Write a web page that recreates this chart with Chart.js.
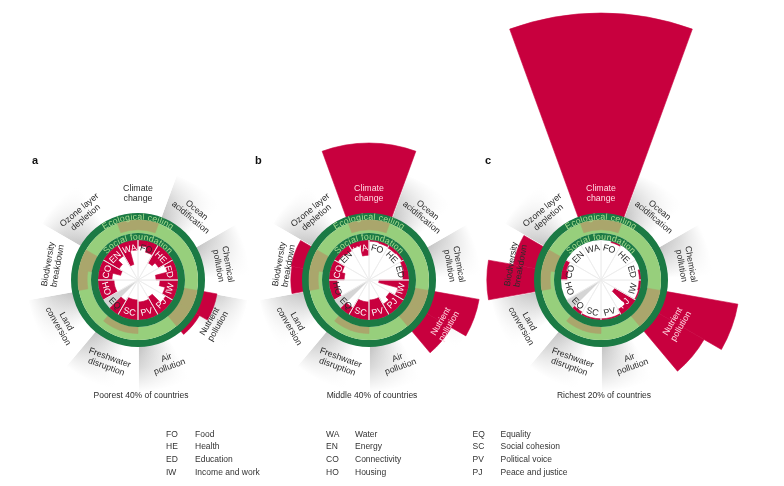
<!DOCTYPE html>
<html>
<head>
<meta charset="utf-8">
<title>Doughnut of social and planetary boundaries</title>
<script src="https://cdn.jsdelivr.net/npm/chart.js@4/dist/chart.umd.min.js"></script>
<style>
  html, body { margin:0; padding:0; background:#fff; }
  body { position:relative; width:784px; height:486px; overflow:hidden; }
  canvas { position:absolute; }
  #txt { position:absolute; left:0; top:0; width:784px; height:486px; pointer-events:none;
         font-family:"Liberation Sans", Arial, Helvetica, sans-serif; }
</style>
</head>
<body>
<canvas id="pa" width="580" height="580"></canvas>
<canvas id="pb" width="580" height="580"></canvas>
<canvas id="pc" width="580" height="580"></canvas>
<svg id="txt" xmlns="http://www.w3.org/2000/svg" width="784" height="486"></svg>
<script>
// ---------------- data ----------------
const boundaryLabels = [['Climate','change'],['Ocean','acidification'],['Chemical','pollution'],['Nutrient','pollution'],['Air','pollution'],['Freshwater','disruption'],['Land','conversion'],['Biodiversity','breakdown'],['Ozone layer','depletion']];
const dimensionCodes = ['FO','HE','ED','IW','PJ','PV','SC','EQ','HO','CO','EN','WA'];
const dimensionNames = ['Food','Health','Education','Income and work','Peace and justice','Political voice','Social cohesion','Equality','Housing','Connectivity','Energy','Water'];
const legendColumns = [['FO','HE','ED','IW'],['WA','EN','CO','HO'],['EQ','SC','PV','PJ']];
const groupTags = ['a','b','c'];
const groupNames = ['Poorest 40% of countries','Middle 40% of countries','Richest 20% of countries'];

// ecological overshoot beyond the ceiling (multiples of the boundary), sub-indicators per boundary
const overshootPoorest = [[0],[0],[0],[0.33,0.1],[0],[0,0],[0],[0,0],[0]];
const overshootMiddle  = [[1.75],[0],[0],[1.12,0.7],[0],[0,0],[0],[0.28,0.3],[0]];
const overshootRichest = [[5.0],[0],[0],[1.8,1.3],[0],[0,0],[0],[1.18,0.55],[0]];

// social achievement as share of the foundation (1 = no shortfall, null = no data)
const achievementPoorest = [[0.85,0.72],[0.5,0.6],[0.75,0.45],[0.55,0.7],[0.8,0.5],[0.55],[0.5],[0.6,null],[0.6],[0.65,0.45],[0.55,0.7],[0.4,0.75]];
const achievementMiddle  = [[0.97,0.95],[0.93,0.95],[0.9,0.85],[0.25,0.75],[0.6,0.7],[0.5],[0.55],[0.8,null],[0.8],[0.62,0.7],[0.9,0.85],[0.88,0.62]];
const achievementRichest = [[1,0.97],[1,1],[1,0.96],[0.95,0.97],[0.4,0.85],[0.97],[0.97],[0.93,null],[1],[0.85,0.9],[1,1],[1,1]];

// zone of increasing risk inside the safe band: [inner share, outer share] per sub-indicator
const riskZone = [[[0.25,1]],[[0,0]],[[0,0]],[[0,1],[0,1]],[[0,0]],[[0,0.5],[0,0.5]],[[0,0]],[[0.3,1],[0,1]],[[0,0]]];

const panelOvershoot = [overshootPoorest, overshootMiddle, overshootRichest];
const panelAchievement = [achievementPoorest, achievementMiddle, achievementRichest];

// ---------------- geometry & style ----------------
const HALF = 290;
const CENTERS = [[138,280],[369,280],[601,280]];
const R_IN = 40, R_SF = 47, R_CI = 60, R_CO = 67, K_OVER = 40, R_WEDGE = 112;
const LABEL_R = 87, SOC_LABEL_R = 32.5;
const RED = '#c8003e', DARK_GREEN = '#1b7a44', LIGHT_GREEN = '#97cf7c', OLIVE = '#aaa66c';
const RING_TEXT = '#a9dc90', INK = '#2b2b2b', LIGHT_TEXT = '#ffd9e3';
const wedgeShading = [0,1,1,1,-1,-1,-1,0,1];

// ---------------- radial bar controller ----------------
class RadialBarController extends Chart.PolarAreaController {
  updateElements(arcs, start, count, mode) {
    const scale = this._cachedMeta.rScale;
    const ds = this.getDataset();
    const toRad = Math.PI / 180;
    let angle = scale.getIndexAngle(0) - Math.PI / 2 + (ds.offsetAngle || 0) * toRad;
    for (let i = 0; i < start; i++) angle += ds.angles[i] * toRad;
    for (let i = start; i < start + count; i++) {
      const startAngle = angle;
      const endAngle = angle + ds.angles[i] * toRad;
      angle = endAngle;
      this.updateElement(arcs[i], i, {
        x: scale.xCenter, y: scale.yCenter,
        innerRadius: scale.getDistanceFromCenterForValue(ds.base[i]),
        outerRadius: scale.getDistanceFromCenterForValue(this.getParsed(i).r),
        startAngle, endAngle,
        options: this.resolveDataElementOptions(i, arcs[i].active ? 'active' : mode)
      }, mode);
    }
  }
}
RadialBarController.id = 'radialBar';
RadialBarController.defaults = Chart.PolarAreaController.defaults;
RadialBarController.overrides = Chart.PolarAreaController.overrides;
Chart.register(RadialBarController);

function segs(nested, span, fn) {
  const data = [], base = [], angles = [];
  nested.forEach(subs => subs.forEach(v => {
    const [b, o] = fn(v);
    base.push(b); data.push(o); angles.push(span / subs.length);
  }));
  return {data, base, angles};
}
const ring = (a, b) => ({data: [b], base: [a], angles: [360]});

function conicShade(chart) {
  const s = chart.scales.r, ctx = chart.ctx;
  if (!s || !ctx.createConicGradient) return '#e6e6e6';
  const g = ctx.createConicGradient((-90 - 20) * Math.PI / 180, s.xCenter, s.yCenter);
  const n = wedgeShading.length, G = '#c2c2c2', W = '#ffffff';
  wedgeShading.forEach((sh, i) => {
    const a0 = i / n, a1 = (i + 1) / n, w = a1 - a0;
    if (sh === 1) { g.addColorStop(a0, G); g.addColorStop(a0 + 0.7 * w, W); g.addColorStop(a1, W); }
    else if (sh === -1) { g.addColorStop(a0, W); g.addColorStop(a0 + 0.3 * w, W); g.addColorStop(a1, G); }
    else { g.addColorStop(a0, W); g.addColorStop(a1, W); }
  });
  return g;
}
function radialFade(chart) {
  const s = chart.scales.r, ctx = chart.ctx;
  if (!s) return 'rgba(255,255,255,0)';
  const g = ctx.createRadialGradient(s.xCenter, s.yCenter, R_CO, s.xCenter, s.yCenter, R_WEDGE);
  g.addColorStop(0, 'rgba(255,255,255,0)');
  g.addColorStop(0.45, 'rgba(255,255,255,0.35)');
  g.addColorStop(1, 'rgba(255,255,255,1)');
  return g;
}
const seamWidth = c => (c.dataset.data[c.dataIndex] - c.dataset.base[c.dataIndex] > 0.3 ? 0.6 : 0);

const charts = [];
function buildPanel(k) {
  const [cx, cy] = CENTERS[k];
  const canvas = document.getElementById(['pa','pb','pc'][k]);
  canvas.style.left = (cx - HALF) + 'px';
  canvas.style.top = (cy - HALF) + 'px';
  const over = panelOvershoot[k], ach = panelAchievement[k];
  const wedge = segs(boundaryLabels.map(() => [0]), 40, () => [R_CO - 3, R_WEDGE]);
  const os = segs(over, 40, v => [R_CO - 3, v > 0 ? R_CO + v * K_OVER : R_CO - 3]);
  const zone = segs(riskZone, 40, ([a, b]) => [R_SF + a * (R_CI - R_SF), R_SF + b * (R_CI - R_SF)]);
  const disc = segs(dimensionCodes.map(() => [0]), 30, () => [0, R_IN]);
  const missing = segs(ach, 30, v => v == null ? [0, R_IN] : [0, 0]);
  const shortfall = segs(ach, 30, v => v == null ? [R_IN, R_IN] : [v * R_IN, R_IN]);
  const seps = segs(dimensionCodes.map(() => [0]), 30, () => [0, R_IN + 2]);
  const ds = (g, order, extra) => Object.assign({
    data: g.data.slice(), base: g.base.slice(), angles: g.angles.slice(),
    order, borderWidth: 0, offsetAngle: 0
  }, extra);
  const chart = new Chart(canvas, {
    type: 'radialBar',
    data: {
      labels: [],
      datasets: [
        ds(wedge, 100, {offsetAngle: -20, backgroundColor: c => conicShade(c.chart)}),
        ds(wedge, 95, {offsetAngle: -20, backgroundColor: c => radialFade(c.chart), borderColor: '#ffffff', borderWidth: 1.5}),
        ds(os, 90, {offsetAngle: -20, backgroundColor: RED, borderColor: RED, borderWidth: seamWidth}),
        ds(ring(R_CI, R_CO), 80, {backgroundColor: DARK_GREEN}),
        ds(ring(R_SF, R_CI), 76, {backgroundColor: LIGHT_GREEN}),
        ds(zone, 72, {offsetAngle: -20, backgroundColor: OLIVE, borderColor: OLIVE, borderWidth: seamWidth}),
        ds(disc, 60, {backgroundColor: '#ffffff'}),
        ds(missing, 50, {backgroundColor: '#d5d5d5'}),
        ds(shortfall, 45, {backgroundColor: RED, borderColor: RED, borderWidth: seamWidth}),
        ds(seps, 30, {backgroundColor: 'rgba(0,0,0,0)', borderColor: '#ececec', borderWidth: 0.8}),
        ds(ring(R_IN, R_SF), 20, {backgroundColor: DARK_GREEN})
      ]
    },
    options: {
      responsive: false, animation: false, devicePixelRatio: 1, events: [],
      layout: {padding: 0},
      plugins: {legend: {display: false}, tooltip: {enabled: false}},
      scales: {r: {type: 'radialLinear', display: false, min: 0, max: HALF, startAngle: 0}}
    }
  });
  charts.push(chart);
  return chart;
}
[0,1,2].forEach(buildPanel);

// ---------------- text overlay ----------------
const SVGNS = 'http://www.w3.org/2000/svg';
const svg = document.getElementById('txt');
function el(parent, tag, attrs, text) {
  const e = document.createElementNS(SVGNS, tag);
  for (const k in attrs) e.setAttribute(k, attrs[k]);
  if (text != null) e.textContent = text;
  parent.appendChild(e);
  return e;
}
const defs = el(svg, 'defs', {});
const rotFor = th => (th > 90 && th < 270) ? th - 180 : (th >= 270 ? th - 360 : th);

charts.forEach((chart, k) => {
  const s = chart.scales.r;
  const cx = CENTERS[k][0] - HALF + s.xCenter;
  const cy = CENTERS[k][1] - HALF + s.yCenter;
  const over = panelOvershoot[k], ach = panelAchievement[k];

  // planetary boundary labels
  boundaryLabels.forEach((lines, i) => {
    const th = i * 40, rad = th * Math.PI / 180;
    const x = cx + LABEL_R * Math.sin(rad), y = cy - LABEL_R * Math.cos(rad);
    const minOuter = Math.min(...over[i].map(v => R_CO + v * K_OVER));
    const fill = minOuter > LABEL_R + 5 ? LIGHT_TEXT : INK;
    const t = el(svg, 'text', {transform: `translate(${x.toFixed(2)},${y.toFixed(2)}) rotate(${rotFor(th)})`,
      'text-anchor': 'middle', 'font-size': 8.8, fill});
    lines.forEach((ln, j) => el(t, 'tspan', {x: 0, y: ((j - (lines.length - 1) / 2) * 9.6 + 3.1).toFixed(2)}, ln));
  });

  // curved ring titles
  const mk = (id, r) => el(defs, 'path', {id, d: `M ${cx - r} ${cy} A ${r} ${r} 0 0 1 ${cx + r} ${cy}`});
  mk('eco' + k, (R_CI + R_CO) / 2 - 3.1);
  mk('soc' + k, (R_IN + R_SF) / 2 - 3.1);
  const te = el(svg, 'text', {'font-size': 8.8, fill: RING_TEXT, 'letter-spacing': 0.2});
  el(te, 'textPath', {href: '#eco' + k, startOffset: '50%', 'text-anchor': 'middle'}, 'Ecological ceiling');
  const ts = el(svg, 'text', {'font-size': 8.8, fill: RING_TEXT, 'letter-spacing': 0.2});
  el(ts, 'textPath', {href: '#soc' + k, startOffset: '50%', 'text-anchor': 'middle'}, 'Social foundation');

  // social dimension labels
  dimensionCodes.forEach((code, i) => {
    const th = 15 + i * 30, rad = th * Math.PI / 180;
    const x = cx + SOC_LABEL_R * Math.sin(rad), y = cy - SOC_LABEL_R * Math.cos(rad);
    const subs = ach[i];
    const hasGap = subs.some(v => v == null);
    const fill = (!hasGap && Math.min(...subs) < 0.7) ? '#ffffff' : INK;
    el(svg, 'text', {transform: `translate(${x.toFixed(2)},${y.toFixed(2)}) rotate(${rotFor(th)})`,
      'text-anchor': 'middle', 'font-size': 9, fill, y: 3.2}, code);
  });

  // panel tag and caption
  el(svg, 'text', {x: [32, 255, 485][k], y: 164, 'font-size': 11, 'font-weight': 'bold', fill: '#111'}, groupTags[k]);
  el(svg, 'text', {x: cx + 3, y: 398, 'font-size': 8.5, 'text-anchor': 'middle', fill: INK}, groupNames[k]);
});

// legend
const legX = [[166, 195], [326, 355], [472.5, 500.5]];
const legY = [436.5, 449, 461.5, 474.5];
legendColumns.forEach((col, c) => col.forEach((code, r) => {
  el(svg, 'text', {x: legX[c][0], y: legY[r], 'font-size': 8.5, fill: '#333'}, code);
  el(svg, 'text', {x: legX[c][1], y: legY[r], 'font-size': 8.5, fill: '#333'}, dimensionNames[dimensionCodes.indexOf(code)]);
}));
</script>
</body>
</html>
